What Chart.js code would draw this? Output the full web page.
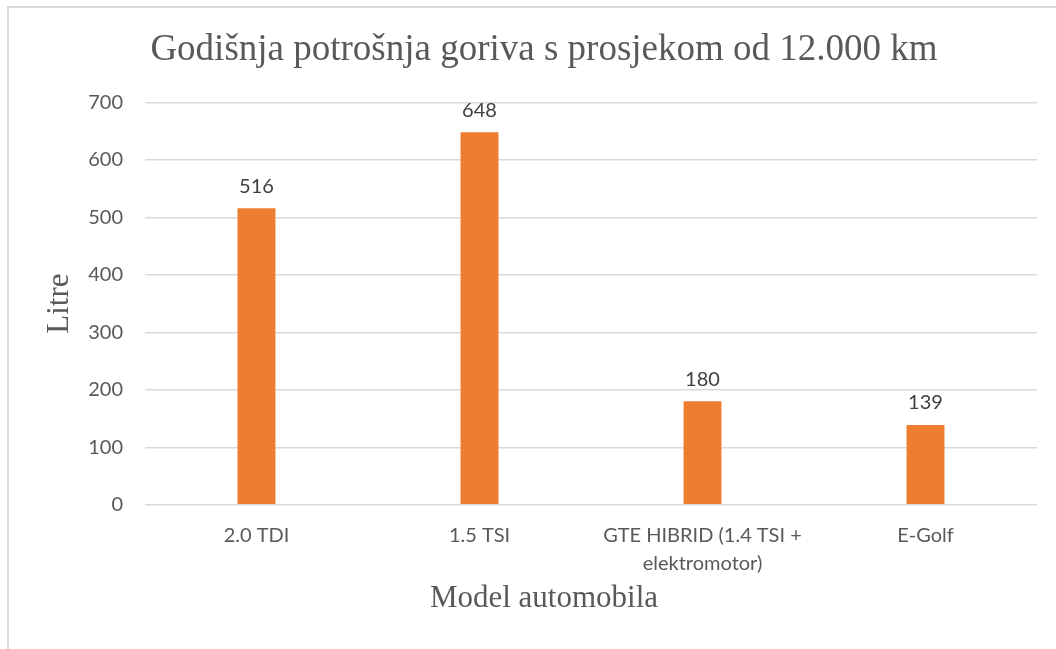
<!DOCTYPE html>
<html>
<head>
<meta charset="utf-8">
<script src="https://cdn.jsdelivr.net/npm/chart.js@4"></script>
<style>
  html, body { margin: 0; padding: 0; background: #fff; overflow: hidden; }
  #frame {
    position: absolute; left: 7px; top: 6px;
    width: 1074px; height: 643px;
    border-left: 2px solid #d9d9d9; border-top: 2px solid #d9d9d9;
  }
  #wrap { position: absolute; left: -2px; top: -2px; width: 1074px; height: 643px; }
</style>
</head>
<body>
<div id="frame"><div id="wrap"><canvas id="myChart"></canvas></div></div>
<script>
const ctx = document.getElementById("myChart");

// data
const models = ["2.0 TDI", "1.5 TSI", ["GTE HIBRID (1.4 TSI +", "elektromotor)"], "E-Golf"];
const litres = [516, 648, 180, 139];
const yTicks = [0, 100, 200, 300, 400, 500, 600, 700];

const tickFont = { family: "Lato", size: 20, lineHeight: 1.4 };
const serif = "'Liberation Serif', 'Times New Roman', serif";

// value labels above the bars
const valueLabels = {
    id: "valueLabels",
    afterDatasetsDraw(chart) {
        const c = chart.ctx;
        const meta = chart.getDatasetMeta(0);
        c.save();
        c.font = "20px Lato";
        c.fillStyle = "#404040";
        c.textAlign = "center";
        c.textBaseline = "middle";
        meta.data.forEach((bar, i) => {
            c.fillText(String(litres[i]), bar.x, bar.y - 22);
        });
        c.restore();
    }
};

new Chart(ctx, {
    type: "bar",
    data: {
        labels: models,
        datasets: [
            {
                label: "Litre",
                data: litres,
                backgroundColor: "#ED7D31",
                borderWidth: 0,
                categoryPercentage: 1,
                barPercentage: 0.17,
            },
        ],
    },
    options: {
        responsive: true,
        maintainAspectRatio: false,
        animation: false,
        layout: {
            padding: { left: 0, right: 0, top: 0, bottom: 32 }
        },
        scales: {
            x: {
                grid: { display: false },
                border: { display: false },
                ticks: {
                    color: "#595959",
                    font: tickFont,
                    padding: 9,
                    maxRotation: 0,
                    autoSkip: false,
                },
                afterFit: (scale) => { scale.height = 75; },
            },
            y: {
                min: 0,
                max: 700,
                afterBuildTicks: (scale) => { scale.ticks = yTicks.map(v => ({ value: v })); },
                grid: { color: "#d9d9d9", lineWidth: 1.5, drawTicks: false },
                border: { display: false },
                ticks: {
                    color: "#595959",
                    font: { family: "Lato", size: 20 },
                    padding: 22,
                },
                title: {
                    display: true,
                    text: "Litre",
                    color: "#595959",
                    font: { family: serif, size: 31 },
                    padding: { top: 34, bottom: 0 },
                },
                afterFit: (scale) => { scale.width = 138; },
            },
            // empty right-hand gutter
            gutter: {
                type: "linear",
                position: "right",
                grid: { display: false },
                border: { display: false },
                ticks: { display: false },
                afterFit: (scale) => { scale.width = 44; },
            },
        },
        plugins: {
            legend: { display: false },
            tooltip: { enabled: false },
            title: {
                display: true,
                text: "Godišnja potrošnja goriva s prosjekom od 12.000 km",
                color: "#595959",
                font: { family: serif, size: 37, weight: "normal" },
                padding: { top: 22, bottom: 30 },
            },
            subtitle: {
                display: true,
                position: "bottom",
                text: "Model automobila",
                color: "#595959",
                font: { family: serif, size: 31, weight: "normal" },
                padding: { top: 0, bottom: 0 },
            },
        },
    },
    plugins: [valueLabels],
});
</script>
</body>
</html>
